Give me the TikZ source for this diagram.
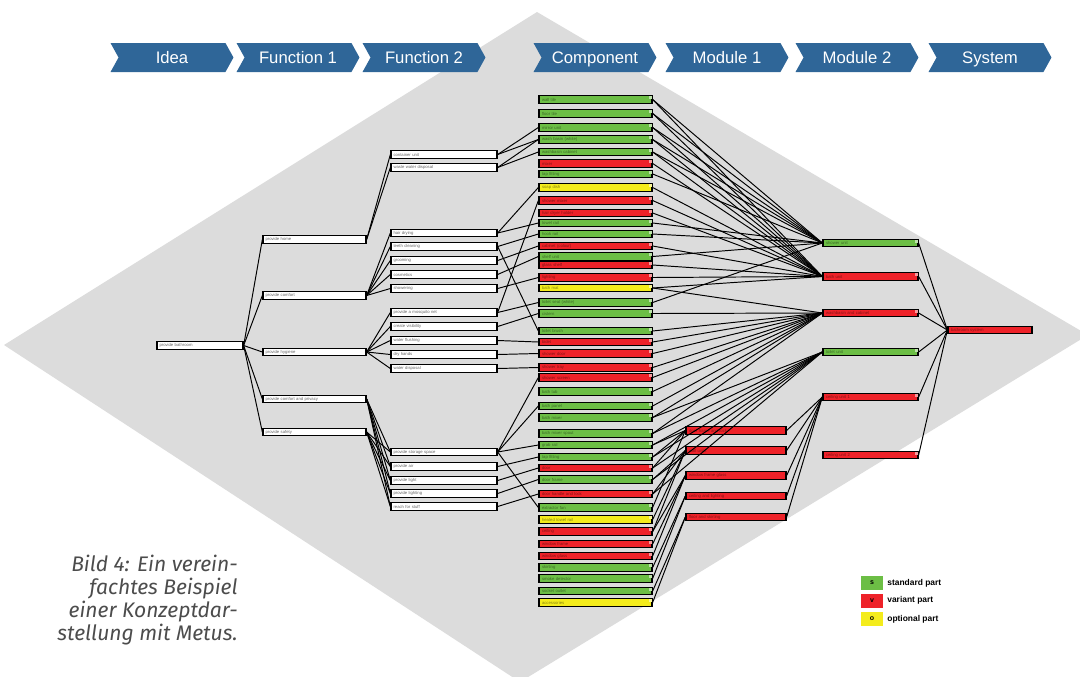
\documentclass[tikz,border=0pt]{standalone}
\usepackage{fontspec}
\setmainfont{Liberation Sans}
\newfontfamily\captionfont{Fira Sans}
\usetikzlibrary{shapes.symbols}

\definecolor{headblue}{HTML}{2F6698}
\definecolor{partG}{HTML}{6CBE45}
\definecolor{partR}{HTML}{EE2229}
\definecolor{partY}{HTML}{F4EC1C}
\definecolor{diamondgray}{HTML}{DCDCDC}

\tikzset{
  head/.style={signal, signal to=east, signal from=west, signal pointer angle=122,
    fill=headblue, text=white, minimum width=2.46cm, minimum height=0.58cm,
    inner sep=0pt, text height=1.5ex, text depth=0.3ex, font=\fontsize{9.5}{9.5}\selectfont},
  fbox/.style={draw, line width=0.75pt, fill=white, minimum height=0.15cm,
    inner sep=0pt, align=left, text=gray!80!black, font=\fontsize{2.4}{2.4}\selectfont},
  part/.style={fbox, fill=#1, minimum width=2.26cm, text width=2.14cm},
  link/.style={line width=0.55pt}
}

\begin{document}
\begin{tikzpicture}[x=0.02cm, y=-0.02cm]
  \useasboundingbox (0,0) rectangle (1080,677);
  \clip (0,0) rectangle (1080,677);
  \fill[diamondgray] (537,12) -- (1088,335) -- (520,682) -- (4,345) -- cycle;

  % header
  \foreach \x/\t [count=\i] in {172/Idea, 298/Function 1, 424/Function 2, 595/Component,
      727/Module 1, 857/Module 2, 990/System}
    \node[head] (h\i) at (\x,57.5) {\t};

  % idea and functions
  \node[fbox, minimum width=1.72cm, text width=1.62cm] (idea) at (200,345.5) {provide bathroom};
  \foreach \y/\t [count=\i] in {239.5/provide home, 295.5/provide comfort, 352/provide hygiene,
      399/provide comfort and privacy, 432/provide safety}
    \node[fbox, minimum width=2.06cm, text width=1.96cm] (f\i) at (314.5,\y) {\t};
  \foreach \y/\t [count=\i] in {154.5/container unit, 167.5/waste water disposal, 233/hair drying,
      246.5/teeth cleaning, 260.5/grooming, 274.5/cosmetics, 288.5/showering,
      312.5/provide a mosquito net, 326.5/create visibility, 340.5/water flushing,
      354.5/dry hands, 368.5/water disposal, 452/provide storage space, 466.5/provide air,
      480.5/provide light, 493.5/provide lighting, 506.5/reach for stuff}
    \node[fbox, minimum width=2.12cm, text width=2.02cm] (g\i) at (444,\y) {\t};

  % components
  \foreach \y/\c/\t [count=\i] in {
      99.5/G/wall tile, 113.5/G/floor tile, 127.5/G/mirror unit, 139.5/G/wash basin (white),
      152/G/washbasin cabinet, 163.5/R/mixer, 174/G/tap fitting, 187.5/Y/soap dish,
      200.5/R/shower mixer, 213/R/hair dryer holder, 223/G/towel rail, 234/G/hook rail,
      246/R/cabinet (colour), 256.5/G/shelf unit, 265/R/glass shelf, 277.5/R/lighting,
      288/Y/bath mat, 302.5/G/toilet seat (white), 313.5/G/cistern, 331/G/toilet brush,
      342/R/bidet, 353.5/R/shower door, 367.5/R/shower tray, 377.5/R/shower screen,
      391.5/G/bath tub, 406/G/bath panel, 417.5/G/bath mixer, 433.5/G/bath mixer spout,
      445/G/grab rail, 457/G/tap fitting, 468/R/door, 479.5/G/door frame,
      494/R/door handle and lock, 507.5/G/extractor fan, 519.5/Y/heated towel rail,
      531.5/R/ceiling, 544/R/window frame, 556/R/window glass, 567.5/G/skirting,
      578.5/G/smoke detector, 591/G/socket outlet, 602.5/Y/accessories}
  {
    \node[part=part\c, text=part\c!55!black] (c\i) at (595.5,\y) {\t};
    \fill[part\c!45!white] (c\i.north east) ++(-1,1) rectangle ++(-3,3);
  }

  % modules and system
  \foreach \y/\t [count=\i] in {430.5/door frame and lock, 450.5/wall units,
      475.5/window frame glass, 496/ceiling and lighting, 517/floor and skirting}
    \node[part=partR, text=partR!55!black, minimum width=2cm, text width=1.88cm] (ma\i) at (736,\y) {\t};
  \foreach \y/\c/\t [count=\i] in {243/G/shower unit, 276.5/R/bath unit,
      313/R/washbasin and cabinet, 352/G/toilet unit, 397/R/ceiling unit 1, 455/R/ceiling unit 2}
  {
    \node[part=part\c, text=part\c!55!black, minimum width=1.9cm, text width=1.78cm] (mb\i) at (870.5,\y) {\t};
    \fill[part\c!45!white] (mb\i.north east) ++(-1,1) rectangle ++(-3,3);
  }
  \node[part=partR, text=partR!55!black, minimum width=1.68cm, text width=1.56cm] (sys) at (990,330) {bathroom system};

  % links
  \foreach \i in {1,...,5} \draw[link] (idea.east) -- (f\i.west);
  \foreach \a/\b in {1/1, 1/2, 2/3, 2/4, 2/5, 2/6, 2/7, 3/8, 3/9, 3/10, 3/11, 3/12,
      4/13, 4/14, 4/15, 4/16, 4/17, 5/13, 5/14, 5/15, 5/16, 5/17}
    \draw[link] (f\a.east) -- (g\b.west);
  \foreach \a/\b in {1/3, 1/4, 2/4, 2/5, 3/8, 3/11, 4/12, 4/20, 5/13, 6/14, 7/16, 8/9, 8/18,
      9/19, 10/21, 11/22, 12/23, 13/24, 13/26, 13/29, 13/34, 14/30, 15/31, 16/32, 17/33}
    \draw[link] (g\a.east) -- (c\b.west);
  \foreach \i in {1,2,3,4,5,7,11,12,14,18} \draw[link] (c\i.east) -- (mb1.west);
  \foreach \i in {1,2,3,4,5,6,8,9,10,13,15,16,17} \draw[link] (c\i.east) -- (mb2.west);
  \foreach \i in {17,19,20,21,22,23,24,25,26,27,28} \draw[link] (c\i.east) -- (mb3.west);
  \foreach \i in {27,28,29,30,31,32,33} \draw[link] (c\i.east) -- (mb4.west);
  \foreach \a/\b in {1/29, 1/30, 1/31, 1/34, 2/32, 2/33, 2/35, 2/36, 3/36, 3/37, 3/38,
      4/39, 4/40, 5/41, 5/42}
    \draw[link] (c\b.east) -- (ma\a.west);
  \foreach \i in {1,...,5} \draw[link] (ma\i.east) -- (mb5.west);
  \foreach \i in {1,...,6} \draw[link] (mb\i.east) -- (sys.west);

  % legend
  \foreach \y/\c/\k/\t [count=\i] in {583/G/s/standard part, 600.5/R/v/variant part, 619/Y/o/optional part}
  {
    \node[fill=part\c, minimum width=0.44cm, minimum height=0.28cm, inner sep=0pt,
      font=\fontsize{4}{4}\selectfont\bfseries] (k\i) at (872,\y) {\k};
    \node[anchor=west, inner sep=0pt, font=\fontsize{4.8}{4.8}\selectfont\bfseries] (t\i) at (887,\y) {\t};
  }

  % caption
  \node[anchor=north east, align=right, inner sep=0pt, text=black!70,
    font=\captionfont\itshape\fontsize{12}{13}\selectfont] (cap) at (238,555)
    {Bild 4: Ein verein-\\fachtes Beispiel\\einer Konzeptdar-\\stellung mit Metus.};
\end{tikzpicture}
\end{document}
